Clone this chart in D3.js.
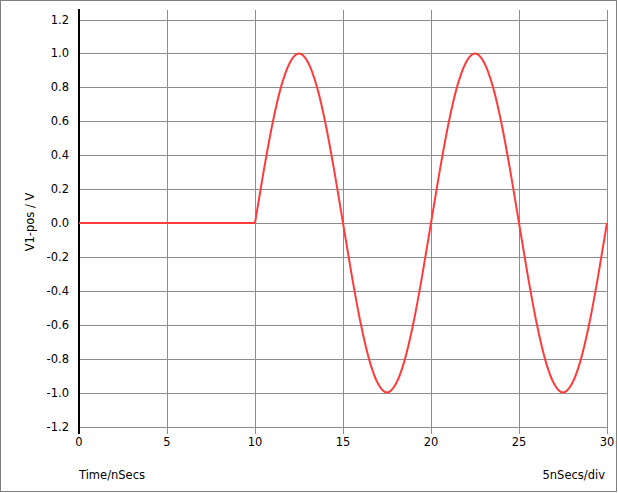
<!DOCTYPE html>
<html>
<head>
<meta charset="utf-8">
<script src="https://cdn.jsdelivr.net/npm/d3@7"></script>
<style>
  body { margin: 0; background: #fff; }
  svg { display: block; font-family: "DejaVu Sans", Verdana, sans-serif; }
</style>
</head>
<body>
<svg width="618" height="493"></svg>
<script>
// time in nSecs, voltage
var times = [0, 10, 10.5, 11, 11.5, 12, 12.5, 13, 13.5, 14, 14.5, 15,
    15.5, 16, 16.5, 17, 17.5, 18, 18.5, 19, 19.5, 20,
    20.5, 21, 21.5, 22, 22.5, 23, 23.5, 24, 24.5, 25,
    25.5, 26, 26.5, 27, 27.5, 28, 28.5, 29, 29.5, 30];
var volts = [0, 0, 0.31, 0.59, 0.81, 0.95, 1.0, 0.95, 0.81, 0.59, 0.31, 0,
    -0.31, -0.59, -0.81, -0.95, -1.0, -0.95, -0.81, -0.59, -0.31, 0,
    0.31, 0.59, 0.81, 0.95, 1.0, 0.95, 0.81, 0.59, 0.31, 0,
    -0.31, -0.59, -0.81, -0.95, -1.0, -0.95, -0.81, -0.59, -0.31, 0];
var xTicks = [0, 5, 10, 15, 20, 25, 30];
var yTicks = [-1.2, -1.0, -0.8, -0.6, -0.4, -0.2, 0.0, 0.2, 0.4, 0.6, 0.8, 1.0, 1.2];

var fs = 11.5;
var svg = d3.select("svg");

// outer frame
svg.append("rect")
    .attr("x", 0.5).attr("y", 0.5)
    .attr("width", 616).attr("height", 491)
    .attr("fill", "none").attr("stroke", "#808080");

var x = d3.scaleLinear().domain([0, 30]).range([79, 607]);
var y = d3.scaleLinear().domain([-1.2, 1.2]).range([426.5, 19.5]);

// grid
svg.append("g").selectAll("line")
    .data(yTicks)
    .enter().append("line")
    .attr("x1", 79).attr("x2", 607.5)
    .attr("y1", function(d) { return Math.round(y(d)) + 0.5; })
    .attr("y2", function(d) { return Math.round(y(d)) + 0.5; })
    .attr("stroke", "#8c8c8c");

svg.append("g").selectAll("line")
    .data(xTicks.slice(1))
    .enter().append("line")
    .attr("x1", function(d) { return Math.round(x(d)) + 0.5; })
    .attr("x2", function(d) { return Math.round(x(d)) + 0.5; })
    .attr("y1", 10).attr("y2", 434)
    .attr("stroke", "#8c8c8c");

// tick labels
svg.append("g").selectAll("text")
    .data(yTicks)
    .enter().append("text")
    .attr("x", 69)
    .attr("y", function(d) { return y(d) + 4; })
    .attr("text-anchor", "end")
    .attr("font-size", fs)
    .text(function(d) { return d3.format(".1f")(d).replace("−", "-"); });

svg.append("g").selectAll("text")
    .data(xTicks)
    .enter().append("text")
    .attr("x", function(d) { return x(d); })
    .attr("y", 446)
    .attr("text-anchor", "middle")
    .attr("font-size", fs)
    .text(function(d) { return d; });

// left axis
svg.append("line")
    .attr("x1", 79).attr("x2", 79)
    .attr("y1", 9).attr("y2", 434)
    .attr("stroke", "#000").attr("stroke-width", 2);

// trace: flat part and the sine part, so the corner at 10 stays sharp
var pts = times.map(function(t, i) { return [t, volts[i]]; });
var line = d3.line()
    .x(function(d) { return x(d[0]); })
    .y(function(d) { return y(d[1]); })
    .curve(d3.curveMonotoneX);

var trace = svg.append("g")
    .attr("fill", "none")
    .attr("stroke", "#ff3c3c")
    .attr("stroke-width", 2)
    .attr("stroke-linejoin", "round");

trace.append("path")
    .datum(pts.filter(function(d) { return d[0] <= 10; }))
    .attr("d", line);

trace.append("path")
    .datum(pts.filter(function(d) { return d[0] >= 10; }))
    .attr("d", line);

// labels
svg.append("text")
    .attr("x", 79).attr("y", 479)
    .attr("font-size", fs)
    .text("Time/nSecs");

svg.append("text")
    .attr("x", 605).attr("y", 479)
    .attr("text-anchor", "end")
    .attr("font-size", fs)
    .text("5nSecs/div");

svg.append("text")
    .attr("transform", "translate(34,222) rotate(-90)")
    .attr("text-anchor", "middle")
    .attr("font-size", fs)
    .text("V1-pos / V");
</script>
</body>
</html>
